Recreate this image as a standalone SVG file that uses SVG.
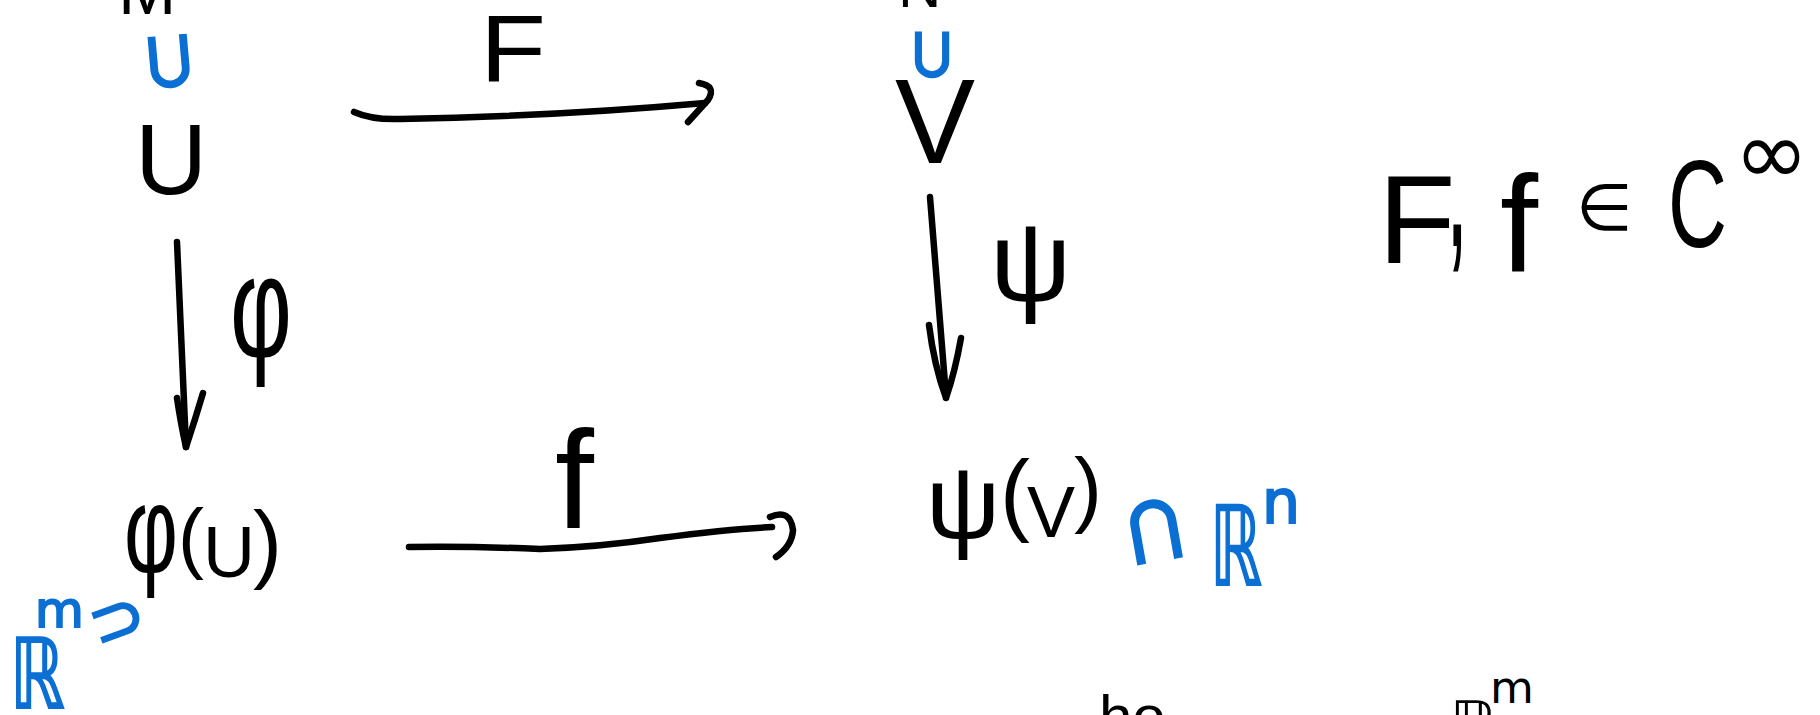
<svg xmlns="http://www.w3.org/2000/svg" width="1820" height="715" viewBox="0 0 1820 715">
<defs>
<style>
.t{font-family:"Liberation Sans","DejaVu Sans",sans-serif;fill:#000}
.m{font-family:"DejaVu Sans","Liberation Sans",sans-serif;fill:#000}
.b{font-family:"DejaVu Sans","Liberation Sans",sans-serif;fill:#0b6fd3;stroke:#0b6fd3;stroke-width:2}
.ln{fill:none;stroke:#000;stroke-width:6.5;stroke-linecap:round;stroke-linejoin:round}
</style>
</defs>
<rect width="1820" height="715" fill="#fff"/>

<g id="node-M"><text class="t" x="118" y="14" font-size="70">M</text></g>
<g id="sub-U-M"><text class="b" x="167" y="62" font-size="80" text-anchor="middle" dominant-baseline="central" transform="rotate(-95 167 62)">⊂</text></g>
<g id="node-U"><text class="t" x="135" y="194" font-size="100">U</text></g>

<g id="node-N"><text class="t" x="898" y="7" font-size="60">N</text></g>
<g id="sub-V-N"><text class="b" x="930" y="55" font-size="70" text-anchor="middle" dominant-baseline="central" transform="rotate(-90 930 55)">⊂</text></g>
<g id="node-V"><text class="t" x="895" y="163" font-size="120">V</text></g>

<g id="node-phiU">
<text class="t" x="124" y="572" font-size="125" textLength="54" lengthAdjust="spacingAndGlyphs">φ</text>
<text class="t" x="178" y="564" font-size="78">(</text>
<text class="t" x="203" y="577" font-size="72">U</text>
<text class="t" x="253" y="572" font-size="87">)</text>
</g>
<g id="node-Rm">
<text class="b" x="10" y="708" font-size="97" textLength="55" lengthAdjust="spacingAndGlyphs">ℝ</text>
<text class="b" x="35" y="627" font-size="50">m</text>
<text class="b" x="117" y="619" font-size="66" text-anchor="middle" dominant-baseline="central" transform="rotate(-20 117 619)">⊃</text>
</g>

<g id="node-psiV">
<text class="t" x="926" y="538" font-size="104">ψ</text>
<text class="t" x="1000" y="524" font-size="90">(</text>
<text class="t" x="1027" y="537" font-size="72">V</text>
<text class="t" x="1074" y="517" font-size="84">)</text>
</g>
<g id="node-Rn">
<text class="b" x="1158" y="530" font-size="95" text-anchor="middle" dominant-baseline="central" transform="rotate(80 1158 530)">⊂</text>
<text class="b" x="1210" y="585" font-size="110" textLength="52" lengthAdjust="spacingAndGlyphs">ℝ</text>
<text class="b" x="1262" y="523" font-size="60">n</text>
</g>

<g id="connectors">
<path class="ln" d="M354,112 Q372,120 400,119 Q560,116 705,103"/>
<path class="ln" d="M699,83 Q717,86 708,100 L688,122"/>
<path class="ln" d="M409,547 Q470,546 540,549 Q600,547 660,538 Q730,529 772,527"/>
<path class="ln" d="M770,517 Q790,508 793,530 Q792,546 776,557"/>
<path class="ln" d="M177,242 L186,447"/>
<path class="ln" d="M177,398 Q181,425 186,447 M203,393 Q195,420 186,447"/>
<path class="ln" d="M930,197 L946,396"/>
<path class="ln" d="M929,325 Q934,365 946,398 M961,338 Q955,372 946,398"/>
</g>

<g id="label-F"><text class="t" x="480" y="81" font-size="95" textLength="66" lengthAdjust="spacingAndGlyphs">F</text></g>
<g id="label-f"><text class="t" x="555" y="528" font-size="140">f</text></g>
<g id="label-phi"><text class="t" x="230" y="357" font-size="145" textLength="62" lengthAdjust="spacingAndGlyphs">φ</text></g>
<g id="label-psi"><text class="t" x="990" y="301" font-size="114">ψ</text></g>

<g id="note-smooth">
<text class="t" x="1378" y="263" font-size="127">F</text>
<text class="t" x="0" y="0" font-size="200" transform="translate(1446,246) scale(0.4,1)">,</text>
<text class="t" x="1500" y="272" font-size="137">f</text>
<text class="m" x="1576" y="230" font-size="65">∈</text>
<text class="t" x="1668" y="247" font-size="124" textLength="59" lengthAdjust="spacingAndGlyphs">C</text>
<text class="m" x="1734" y="184" font-size="90">∞</text>
</g>

<g id="partial-bottom">
<text class="t" x="1099" y="737" font-size="60">ho</text>
<text class="m" x="1450" y="744" font-size="60">ℝ</text>
<text class="m" x="1490" y="703" font-size="45">m</text>
</g>
</svg>
